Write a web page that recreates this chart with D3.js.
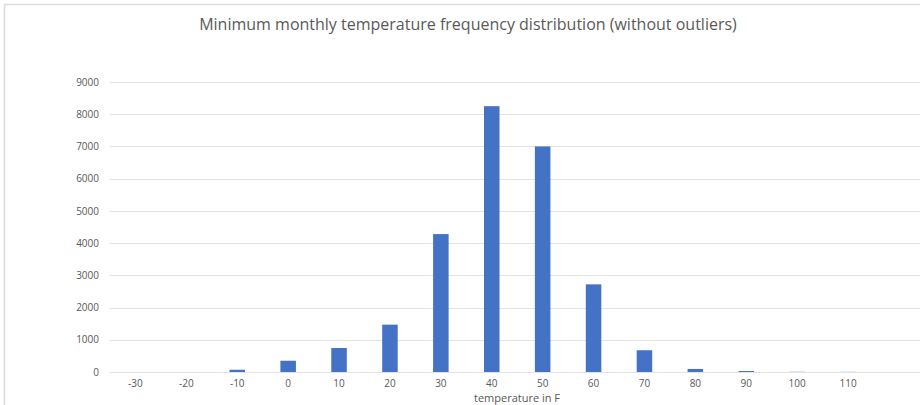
<!DOCTYPE html>
<html>
<head>
<meta charset="utf-8">
<script src="https://cdn.jsdelivr.net/npm/d3@7"></script>
<style>
  html, body { margin: 0; padding: 0; background: #fff; }
  svg { display: block; }
</style>
</head>
<body>
<svg id="chart" width="920" height="405"></svg>
<script>
// Temperature bins (°F) and how many monthly minimum readings fall into each
const temperatureBins = [-30, -20, -10, 0, 10, 20, 30, 40, 50, 60, 70, 80, 90, 100, 110];
const frequencies     = [0, 0, 70, 350, 745, 1470, 4280, 8250, 7000, 2720, 675, 95, 30, 6, 4];
const yTicks          = [0, 1000, 2000, 3000, 4000, 5000, 6000, 7000, 8000, 9000];

const chartTitle = "Minimum monthly temperature frequency distribution (without outliers)";
const xAxisTitle = "temperature in F";

const svg = d3.select("#chart");
const W = 920, H = 405;
const plot = { left: 110, top: 82, bottom: 372, right: 924 };
const step = 50.9;

// Outer chart frame (top and left edges are visible)
svg.append("path")
  .attr("d", `M4.5,${H} V4.5 H${W}`)
  .attr("fill", "none")
  .attr("stroke", "#dcdcdc")
  .attr("stroke-width", 1.5);

const x = d3.scaleBand()
  .domain(temperatureBins.map(String))
  .range([plot.left, plot.left + step * temperatureBins.length])
  .paddingInner(0.695)
  .paddingOuter(0.3475);

const y = d3.scaleLinear()
  .domain([0, 9000])
  .range([plot.bottom, plot.top]);

// Horizontal gridlines
svg.append("g")
  .selectAll("line")
  .data(yTicks)
  .join("line")
  .attr("x1", plot.left)
  .attr("x2", plot.right)
  .attr("y1", d => Math.round(y(d)) + 0.5)
  .attr("y2", d => Math.round(y(d)) + 0.5)
  .attr("stroke", "#e3e3e3")
  .attr("stroke-width", 1);

// Y axis labels
const yAxis = d3.axisLeft(y).tickValues(yTicks).tickSize(0).tickPadding(0).tickFormat(d3.format("d"));
svg.append("g")
  .attr("transform", `translate(${plot.left - 11},0)`)
  .call(yAxis)
  .call(g => g.select(".domain").remove())
  .call(g => g.selectAll("text")
    .attr("font-family", "'Open Sans', 'Liberation Sans', sans-serif")
    .attr("font-size", 10)
    .attr("fill", "#595959"));

// Bars
svg.append("g")
  .selectAll("rect")
  .data(temperatureBins.map((t, i) => ({ t, v: frequencies[i] })))
  .join("rect")
  .attr("x", d => x(String(d.t)))
  .attr("width", x.bandwidth())
  .attr("y", d => y(d.v))
  .attr("height", d => y(0) - y(d.v))
  .attr("fill", "#4472c4");

// X axis labels
const xAxis = d3.axisBottom(x).tickSize(0).tickPadding(0);
svg.append("g")
  .attr("transform", `translate(0,${plot.bottom + 8})`)
  .call(xAxis)
  .call(g => g.select(".domain").remove())
  .call(g => g.selectAll("text")
    .attr("font-family", "'Open Sans', 'Liberation Sans', sans-serif")
    .attr("font-size", 10)
    .attr("fill", "#595959"));

// Axis title
svg.append("text")
  .attr("x", 517)
  .attr("y", 402)
  .attr("text-anchor", "middle")
  .attr("font-family", "'Open Sans', 'Liberation Sans', sans-serif")
  .attr("font-size", 11)
  .attr("fill", "#595959")
  .text(xAxisTitle);

// Chart title
svg.append("text")
  .attr("x", 468)
  .attr("y", 30)
  .attr("text-anchor", "middle")
  .attr("font-family", "'Open Sans', 'Liberation Sans', sans-serif")
  .attr("font-size", 16)
  .attr("fill", "#595959")
  .text(chartTitle);
</script>
</body>
</html>
